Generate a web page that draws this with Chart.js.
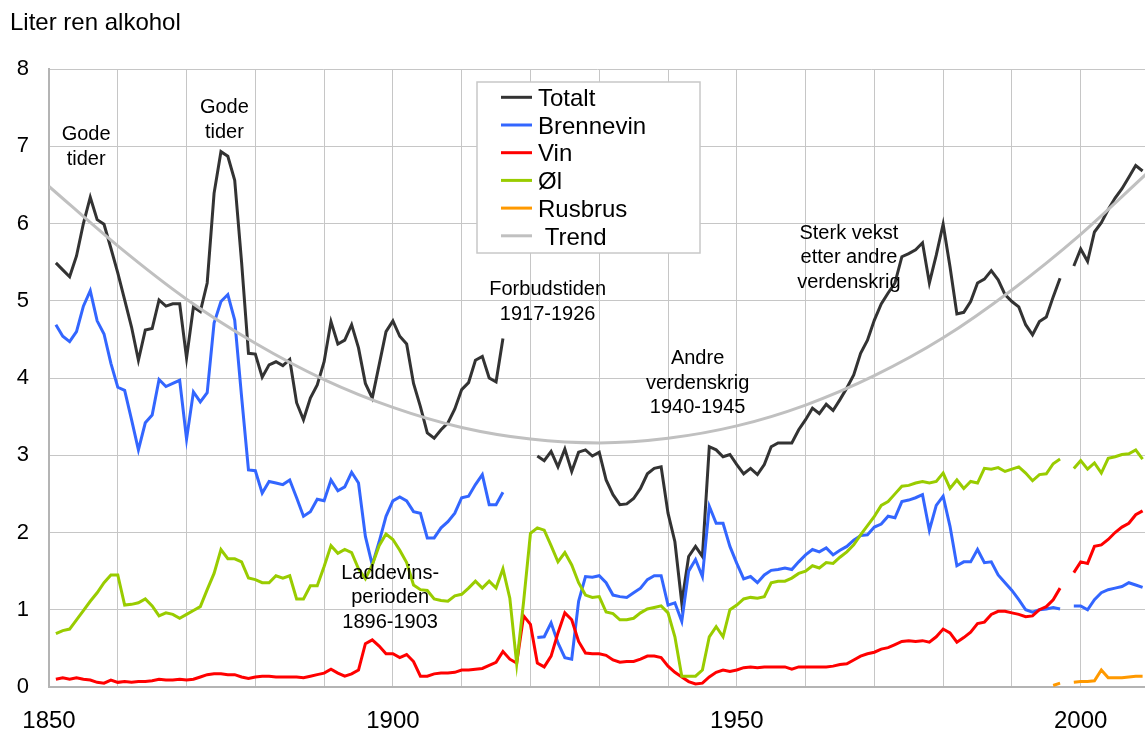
<!DOCTYPE html>
<html lang="no">
<head>
<meta charset="utf-8">
<title>Liter ren alkohol</title>
<script src="https://cdn.jsdelivr.net/npm/chart.js@4.4.0/dist/chart.umd.min.js"></script>
<style>
  html, body { margin: 0; padding: 0; background: #fff; }
  canvas { display: block; }
</style>
</head>
<body>
<canvas id="chart" width="1145" height="733"></canvas>
<script>
// Liter ren alkohol per innbygger, 1851-2009
const totalt = [
  5.49, 5.40, 5.31, 5.58, 6.00, 6.34, 6.05, 5.99, 5.68, 5.36,
  5.01, 4.66, 4.23, 4.62, 4.64, 5.01, 4.93, 4.96, 4.96, 4.26,
  4.92, 4.86, 5.23, 6.39, 6.93, 6.87, 6.56, 5.50, 4.32, 4.31,
  4.01, 4.17, 4.21, 4.16, 4.24, 3.68, 3.46, 3.74, 3.91, 4.21,
  4.73, 4.44, 4.49, 4.69, 4.39, 3.93, 3.74, 4.17, 4.60, 4.74,
  4.54, 4.44, 3.93, 3.63, 3.29, 3.22, 3.33, 3.42, 3.60, 3.85,
  3.94, 4.23, 4.28, 4.00, 3.95, 4.51, null, null, null, null,
  2.99, 2.93, 3.05, 2.85, 3.08, 2.79, 3.04, 3.07, 2.99, 3.04,
  2.68, 2.49, 2.36, 2.37, 2.44, 2.57, 2.76, 2.83, 2.85, 2.25,
  1.88, 1.09, 1.69, 1.82, 1.69, 3.11, 3.07, 2.98, 3.01, 2.88,
  2.76, 2.83, 2.75, 2.88, 3.11, 3.16, 3.16, 3.16, 3.33, 3.46,
  3.61, 3.54, 3.66, 3.58, 3.72, 3.87, 4.04, 4.32, 4.49, 4.75,
  4.96, 5.10, 5.23, 5.57, 5.61, 5.66, 5.75, 5.23, 5.59, 5.99,
  5.44, 4.83, 4.85, 4.99, 5.23, 5.28, 5.39, 5.27, 5.08, 4.99,
  4.92, 4.69, 4.56, 4.73, 4.79, 5.05, 5.29, null, 5.45, 5.67,
  5.51, 5.89, 6.01, 6.18, 6.33, 6.45, 6.60, 6.75, 6.68
];
const brennevin = [
  4.69, 4.54, 4.47, 4.60, 4.93, 5.13, 4.74, 4.57, 4.19, 3.88,
  3.84, 3.46, 3.07, 3.42, 3.52, 3.98, 3.89, 3.93, 3.97, 3.21,
  3.82, 3.69, 3.81, 4.71, 4.99, 5.08, 4.75, 3.76, 2.81, 2.80,
  2.51, 2.66, 2.64, 2.62, 2.68, 2.45, 2.21, 2.27, 2.43, 2.41,
  2.68, 2.54, 2.59, 2.78, 2.64, 1.95, 1.58, 1.88, 2.21, 2.41,
  2.46, 2.41, 2.27, 2.25, 1.93, 1.93, 2.06, 2.14, 2.25, 2.45,
  2.47, 2.62, 2.75, 2.36, 2.36, 2.52, null, null, null, null,
  0.64, 0.65, 0.83, 0.57, 0.38, 0.36, 1.11, 1.43, 1.42, 1.44,
  1.35, 1.19, 1.17, 1.16, 1.22, 1.28, 1.39, 1.44, 1.44, 1.06,
  1.09, 0.85, 1.50, 1.65, 1.43, 2.34, 2.12, 2.12, 1.82, 1.60,
  1.40, 1.43, 1.35, 1.45, 1.51, 1.52, 1.54, 1.52, 1.62, 1.71,
  1.78, 1.75, 1.80, 1.71, 1.77, 1.82, 1.90, 1.96, 1.97, 2.07,
  2.11, 2.21, 2.19, 2.40, 2.42, 2.45, 2.49, 2.03, 2.35, 2.47,
  2.08, 1.57, 1.62, 1.62, 1.78, 1.61, 1.62, 1.45, 1.35, 1.25,
  1.13, 1.00, 0.97, 1.00, 1.01, 1.03, 1.01, null, 1.05, 1.05,
  1.00, 1.13, 1.22, 1.26, 1.28, 1.30, 1.35, 1.32, 1.29
];
const vin = [
  0.10, 0.12, 0.10, 0.12, 0.10, 0.09, 0.06, 0.05, 0.09, 0.06,
  0.07, 0.06, 0.07, 0.07, 0.08, 0.10, 0.09, 0.09, 0.10, 0.09,
  0.10, 0.13, 0.16, 0.17, 0.17, 0.16, 0.16, 0.13, 0.11, 0.13,
  0.14, 0.14, 0.13, 0.13, 0.13, 0.13, 0.12, 0.14, 0.16, 0.18,
  0.23, 0.18, 0.14, 0.17, 0.22, 0.56, 0.61, 0.53, 0.43, 0.43,
  0.38, 0.42, 0.33, 0.14, 0.14, 0.17, 0.18, 0.18, 0.19, 0.22,
  0.22, 0.23, 0.24, 0.28, 0.32, 0.46, 0.36, 0.31, 0.92, 0.81,
  0.31, 0.26, 0.40, 0.70, 0.96, 0.87, 0.59, 0.44, 0.43, 0.43,
  0.41, 0.35, 0.32, 0.33, 0.33, 0.36, 0.40, 0.40, 0.38, 0.27,
  0.19, 0.13, 0.07, 0.04, 0.05, 0.13, 0.19, 0.22, 0.20, 0.22,
  0.25, 0.26, 0.25, 0.26, 0.26, 0.26, 0.26, 0.23, 0.26, 0.26,
  0.26, 0.26, 0.26, 0.27, 0.29, 0.30, 0.35, 0.40, 0.43, 0.45,
  0.49, 0.51, 0.55, 0.59, 0.60, 0.59, 0.60, 0.58, 0.65, 0.75,
  0.70, 0.58, 0.64, 0.71, 0.82, 0.84, 0.94, 0.98, 0.98, 0.96,
  0.94, 0.91, 0.92, 1.00, 1.04, 1.13, 1.28, null, 1.48, 1.62,
  1.60, 1.82, 1.84, 1.91, 2.00, 2.07, 2.12, 2.23, 2.28
];
const ol = [
  0.69, 0.73, 0.75, 0.87, 0.99, 1.11, 1.22, 1.35, 1.45, 1.45,
  1.06, 1.07, 1.09, 1.14, 1.05, 0.92, 0.96, 0.94, 0.89, 0.94,
  0.99, 1.04, 1.26, 1.47, 1.78, 1.66, 1.66, 1.62, 1.41, 1.39,
  1.35, 1.35, 1.44, 1.41, 1.44, 1.14, 1.14, 1.31, 1.31, 1.56,
  1.83, 1.73, 1.78, 1.74, 1.53, 1.40, 1.58, 1.83, 1.98, 1.91,
  1.77, 1.61, 1.32, 1.26, 1.25, 1.14, 1.12, 1.11, 1.18, 1.20,
  1.28, 1.37, 1.28, 1.37, 1.28, 1.53, 1.15, 0.30, 1.10, 1.99,
  2.06, 2.03, 1.83, 1.62, 1.74, 1.58, 1.35, 1.19, 1.16, 1.17,
  0.97, 0.95, 0.87, 0.87, 0.89, 0.96, 1.01, 1.03, 1.05, 0.96,
  0.65, 0.14, 0.14, 0.14, 0.22, 0.65, 0.78, 0.65, 1.00, 1.06,
  1.14, 1.16, 1.15, 1.17, 1.35, 1.37, 1.37, 1.41, 1.47, 1.50,
  1.57, 1.54, 1.61, 1.60, 1.68, 1.75, 1.84, 1.97, 2.09, 2.21,
  2.35, 2.40, 2.50, 2.60, 2.61, 2.64, 2.66, 2.64, 2.66, 2.77,
  2.57, 2.68, 2.57, 2.66, 2.64, 2.83, 2.82, 2.84, 2.79, 2.82,
  2.85, 2.77, 2.67, 2.75, 2.76, 2.89, 2.95, null, 2.83, 2.93,
  2.82, 2.90, 2.77, 2.96, 2.98, 3.01, 3.02, 3.07, 2.95
];
// Rusbrus kommer først i 1996
const rusbrus = Array(145).fill(null).concat([
  0.02, 0.05, null, 0.06, 0.07, 0.07, 0.08, 0.22, 0.12, 0.12,
  0.12, 0.13, 0.14, 0.14
]);

// Trendlinje for totalt forbruk
const trendYears = [1850, 1860, 1870, 1880, 1890, 1900, 1910, 1920, 1930,
  1940, 1950, 1960, 1970, 1980, 1990, 2000, 2010];
const trend = [6.48, 5.71, 5.02, 4.45, 3.98, 3.62, 3.36, 3.21, 3.16,
  3.22, 3.38, 3.65, 4.03, 4.52, 5.14, 5.86, 6.68];

const years = Array.from({ length: totalt.length }, (_, i) => 1851 + i);
const gridYears = [1850, 1860, 1870, 1880, 1890, 1900, 1910, 1920,
  1930, 1940, 1950, 1960, 1970, 1980, 1990, 2000];
const yearLabels = [1850, 1900, 1950, 2000];

const notes = [
  { x: 1855.4, y: 7.08, lines: ['Gode', 'tider'] },
  { x: 1875.5, y: 7.43, lines: ['Gode', 'tider'] },
  { x: 1922.5, y: 5.07, lines: ['Forbudstiden', '1917-1926'] },
  { x: 1944.3, y: 4.18, lines: ['Andre', 'verdenskrig', '1940-1945'] },
  { x: 1966.3, y: 5.80, lines: ['Sterk vekst', 'etter andre', 'verdenskrig'] },
  { x: 1899.6, y: 1.40, lines: ['Laddevins-', 'perioden', '1896-1903'] }
];

const FONT = '"Liberation Sans", Arial, sans-serif';

const series = [
  { label: 'Totalt', values: totalt, color: '#333333' },
  { label: 'Brennevin', values: brennevin, color: '#3366ff' },
  { label: 'Vin', values: vin, color: '#ff0000' },
  { label: 'Øl', values: ol, color: '#99cc00' },
  { label: 'Rusbrus', values: rusbrus, color: '#ff9900' }
];

const datasets = series.map((s, i) => ({
  label: s.label,
  data: s.values.map((v, j) => ({ x: years[j], y: v })),
  borderColor: s.color,
  borderWidth: 3,
  pointRadius: 0,
  spanGaps: false,
  order: 10 - i
}));
datasets.push({
  label: ' Trend',
  data: trend.map((v, j) => ({ x: trendYears[j], y: v })),
  borderColor: '#c0c0c0',
  borderWidth: 3,
  pointRadius: 0,
  cubicInterpolationMode: 'monotone',
  order: 1
});

// legend box inside the plot, drawn over the lines
const boxLegend = {
  id: 'boxLegend',
  afterDatasetsDraw(chart) {
    const ctx = chart.ctx;
    ctx.save();
    ctx.fillStyle = '#ffffff';
    ctx.fillRect(477, 82, 223, 171);
    ctx.strokeStyle = '#c8c8c8';
    ctx.lineWidth = 1.5;
    ctx.strokeRect(477, 82, 223, 171);
    ctx.font = '24px ' + FONT;
    ctx.textBaseline = 'alphabetic';
    ctx.textAlign = 'left';
    chart.data.datasets.forEach((ds, i) => {
      const base = 106 + i * 27.7;
      ctx.strokeStyle = ds.borderColor;
      ctx.lineWidth = 3;
      ctx.beginPath();
      ctx.moveTo(501, base - 8.7);
      ctx.lineTo(532, base - 8.7);
      ctx.stroke();
      ctx.fillStyle = '#000';
      ctx.fillText(ds.label, 538, base);
    });
    ctx.restore();
  }
};

// axis title and the period notes
const chartTexts = {
  id: 'chartTexts',
  afterDraw(chart) {
    const ctx = chart.ctx;
    const xs = chart.scales.x, ys = chart.scales.y;
    ctx.save();
    ctx.fillStyle = '#000';
    ctx.textBaseline = 'alphabetic';
    ctx.textAlign = 'left';
    ctx.font = '24px ' + FONT;
    ctx.fillText('Liter ren alkohol', 10, 30);
    ctx.textAlign = 'center';
    ctx.font = '20px ' + FONT;
    notes.forEach(n => {
      const px = xs.getPixelForValue(n.x);
      const py = ys.getPixelForValue(n.y);
      n.lines.forEach((t, k) => ctx.fillText(t, px, py + k * 24.5));
    });
    ctx.restore();
  }
};

new Chart(document.getElementById('chart'), {
  type: 'line',
  data: { datasets },
  options: {
    responsive: false,
    animation: false,
    layout: { padding: { top: 69, left: 0, right: 0, bottom: 0 } },
    plugins: {
      legend: { display: false },
      tooltip: { enabled: false }
    },
    scales: {
      x: {
        type: 'linear',
        min: 1850,
        max: 2009.35,
        afterBuildTicks: s => { s.ticks = gridYears.map(v => ({ value: v })); },
        afterFit: s => { s.height = 46; },
        grid: { color: '#c6c6c6', lineWidth: 1, drawTicks: false },
        border: { color: '#b4b4b4', width: 2 },
        ticks: {
          autoSkip: false,
          maxRotation: 0,
          padding: 20,
          color: '#000',
          font: { family: FONT, size: 24 },
          callback: v => yearLabels.includes(v) ? String(v) : ''
        }
      },
      y: {
        min: 0,
        max: 8,
        ticks: {
          stepSize: 1,
          padding: 20,
          color: '#000',
          font: { family: FONT, size: 22 }
        },
        afterFit: s => { s.width = 49; },
        grid: { color: '#c6c6c6', lineWidth: 1, drawTicks: false },
        border: { color: '#b4b4b4', width: 2 }
      }
    }
  },
  plugins: [boxLegend, chartTexts]
});
</script>
</body>
</html>
